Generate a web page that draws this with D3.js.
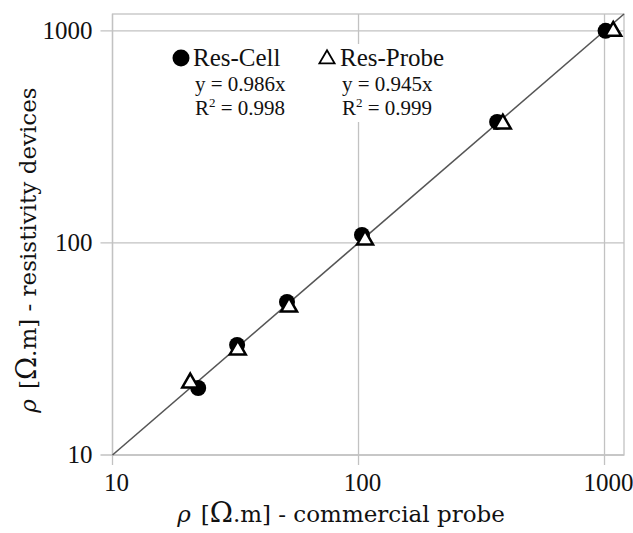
<!DOCTYPE html>
<html><head><meta charset="utf-8">
<script src="https://cdn.jsdelivr.net/npm/d3@7"></script>
<style>body{margin:0;background:#fff}svg{display:block}</style>
</head><body>
<svg id="c" width="633" height="533"></svg>
<script>
// Data
const resCellX = [22.3, 32.1, 51.2, 103.3, 366, 1010];
const resCellY = [20.7, 33.0, 52.7, 109, 372, 1000];
const resProbeX = [20.7, 32.3, 52.2, 106.3, 386, 1085];
const resProbeY = [21.9, 31.3, 49.9, 103.3, 364, 995];
const tickValues = [10, 100, 1000];
const tickLabels = ["10", "100", "1000"];
const seriesNames = ["Res-Cell", "Res-Probe"];
const equations = ["y = 0.986x", "y = 0.945x"];
const r2Labels = ["0.998", "0.999"];

const svg = d3.select("#c");
const L = 112.5, R = 624, T = 14, B = 455;
const x = d3.scaleLog().domain([10, 1200]).range([L, R]);
const y = d3.scaleLog().domain([10, 1200]).range([B, T]);
const font = "'Liberation Serif', 'Times New Roman', serif";
const tfont = "'DejaVu Serif', serif";
const grid = "#c2c2c2";

// gridlines
svg.append("g").selectAll("line.v").data(tickValues).join("line")
  .attr("x1", d => x(d)).attr("x2", d => x(d)).attr("y1", T).attr("y2", B + 10)
  .attr("stroke", grid).attr("stroke-width", 1.3);
svg.append("g").selectAll("line.h").data(tickValues).join("line")
  .attr("y1", d => y(d)).attr("y2", d => y(d)).attr("x1", L - 12).attr("x2", R)
  .attr("stroke", grid).attr("stroke-width", 1.3);
// frame
svg.append("rect").attr("x", L).attr("y", T).attr("width", R - L).attr("height", B - T)
  .attr("fill", "none").attr("stroke", grid).attr("stroke-width", 1.3);

// tick labels
svg.append("g").selectAll("text").data(tickValues).join("text")
  .attr("x", d => x(d) + 4).attr("y", B + 36).attr("text-anchor", "middle")
  .attr("font-family", font).attr("font-size", 25).attr("fill", "#111")
  .text((d, i) => tickLabels[i]);
svg.append("g").selectAll("text").data(tickValues).join("text")
  .attr("x", L - 20).attr("y", d => y(d) + 8).attr("text-anchor", "end")
  .attr("font-family", font).attr("font-size", 25).attr("fill", "#111")
  .text((d, i) => tickLabels[i]);

// 1:1 line
svg.append("line").attr("x1", x(10)).attr("y1", y(10)).attr("x2", x(1200)).attr("y2", y(1200))
  .attr("stroke", "#555").attr("stroke-width", 1.6);

// legend box
svg.append("rect").attr("x", 160).attr("y", 44).attr("width", 310).attr("height", 78).attr("fill", "#fff");

// points
svg.append("g").selectAll("circle").data(resCellX).join("circle")
  .attr("cx", d => x(d)).attr("cy", (d, i) => y(resCellY[i])).attr("r", 8).attr("fill", "#000");
const tri = d3.symbol().type(d3.symbolTriangle).size(110);
svg.append("g").selectAll("path").data(resProbeX).join("path")
  .attr("d", tri).attr("transform", (d, i) => `translate(${x(d)},${y(resProbeY[i])})`)
  .attr("fill", "#fff").attr("stroke", "#000").attr("stroke-width", 2.5).attr("stroke-linejoin", "miter");

// legend
const lg = svg.append("g").attr("font-family", font).attr("fill", "#111");
lg.append("circle").attr("cx", 181).attr("cy", 58).attr("r", 8.5).attr("fill", "#000");
lg.append("text").attr("x", 193).attr("y", 66).attr("font-size", 25).text(seriesNames[0]);
lg.append("path").attr("d", d3.symbol().type(d3.symbolTriangle).size(100))
  .attr("transform", "translate(327,59)").attr("fill", "#fff").attr("stroke", "#000").attr("stroke-width", 1.8);
lg.append("text").attr("x", 340).attr("y", 66).attr("font-size", 25).text(seriesNames[1]);
const ex = [195, 342];
ex.forEach((px, i) => {
  lg.append("text").attr("x", px).attr("y", 91).attr("font-size", 21).text(equations[i]);
  const t = lg.append("text").attr("x", px).attr("y", 115).attr("font-size", 21);
  t.append("tspan").text("R");
  t.append("tspan").attr("font-size", 13).attr("dy", -8).text("2");
  t.append("tspan").attr("dy", 8).text(" = " + r2Labels[i]);
});

// axis titles
const xt = svg.append("text").attr("x", 341).attr("y", 522).attr("text-anchor", "middle")
  .attr("font-family", tfont).attr("font-size", 23).attr("fill", "#111");
xt.append("tspan").attr("font-style", "italic").text("ρ");
xt.append("tspan").attr("dx", 10).text("[");
xt.append("tspan").attr("font-size", 28).text("Ω");
xt.append("tspan").text(".m] - commercial probe");

const yt = svg.append("text").attr("transform", "translate(36,250) rotate(-90)").attr("text-anchor", "middle")
  .attr("font-family", tfont).attr("font-size", 23).attr("fill", "#111");
yt.append("tspan").attr("font-style", "italic").text("ρ");
yt.append("tspan").attr("dx", 10).text("[");
yt.append("tspan").attr("font-size", 28).text("Ω");
yt.append("tspan").text(".m] - resistivity devices");
</script>
</body></html>
